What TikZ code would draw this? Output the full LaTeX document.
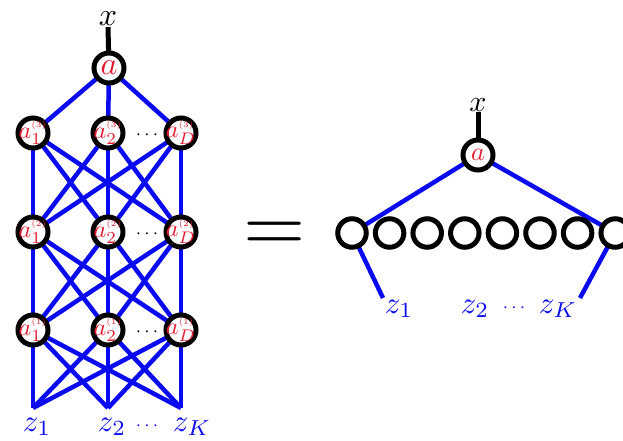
\documentclass[tikz,border=0pt]{standalone}
\usepackage{graphicx}
\usepackage{tikz}
\usetikzlibrary{positioning}
\definecolor{wireblue}{RGB}{10, 10, 240}
\definecolor{unitred}{RGB}{230, 25, 45}
\pgfdeclarelayer{wires}
\pgfsetlayers{wires,main}
\newcommand{\bigmath}[2]{\scalebox{#1}{$#2$}}
\newcommand{\unitname}[2]{\bigmath{2.4}{a_{#1}^{\scalebox{0.7}{$\scriptscriptstyle(#2)$}}}}

\begin{document}
\begin{tikzpicture}[x=1pt, y=-1pt,
    unit/.style={circle, draw=black, line width=5pt, fill=white, minimum size=30pt, inner sep=0pt},
    unittext/.style={text=unitred, inner sep=0pt},
    ringunit/.style={circle, draw=black, line width=5pt, fill=white, minimum size=28.5pt, inner sep=0pt},
    wire/.style={wireblue, line width=4.5pt},
    stem/.style={black, line width=5pt},
    varlbl/.style={anchor=base, inner sep=1pt},
    zlbl/.style={varlbl, text=wireblue},
    dots/.style={inner sep=0pt}]
    \useasboundingbox (0,0) rectangle (623,441);
    \clip (0,0) rectangle (623,441);
    % Left: stacked layers
    \node[varlbl] (xa) at (108,26) {\bigmath{3.2}{x}};
    \node[unit, label={[unittext]center:\bigmath{3.2}{a}}] (a) at (109,68) {};
    \foreach \l/\y in {3/133, 2/232, 1/330} {
        \foreach \i/\x/\s in {1/33/1, 2/108/2, 3/181/D}
            \node[unit, label={[unittext]center:\unitname{\s}{\l}}] (n\l\i) at (\x,\y) {};
        \node[dots] (d\l) at (147,\y+2) {\bigmath{1.9}{\cdots}};
    }
    \foreach \i/\x in {1/33, 2/108, 3/181}
        \coordinate (p\i) at (\x,408);
    \node[zlbl] (z1) at (37,431) {\bigmath{3.1}{z_1}};
    \node[zlbl] (z2) at (112,431) {\bigmath{3.1}{z_2}};
    \node[dots, text=wireblue] (zd) at (147,426) {\bigmath{1.9}{\cdots}};
    \node[zlbl] (zK) at (192,431) {\bigmath{3.1}{z_K}};
    % Equals sign
    \node[inner sep=0pt] (eq) at (274.5,236.5) {\bigmath{8}{=}};
    % Right: one wide layer
    \node[varlbl] (xb) at (478,111) {\bigmath{3}{x}};
    \node[unit, label={[unittext]center:\bigmath{2.6}{a}}] (b) at (478,155) {};
    \foreach \k in {1,...,8}
        \node[ringunit] (c\k) at ({352+(\k-1)*37.6},233) {};
    \coordinate (q1) at (383,298);
    \coordinate (q2) at (580,298);
    \node[zlbl] (w1) at (399,313) {\bigmath{3.1}{z_1}};
    \node[zlbl] (w2) at (475,313) {\bigmath{3.1}{z_2}};
    \node[dots, text=wireblue] (wd) at (514,308) {\bigmath{1.9}{\cdots}};
    \node[zlbl] (wK) at (558,313) {\bigmath{3.1}{z_K}};
    % Connectors
    \begin{pgfonlayer}{wires}
        \draw[stem] (xa.south) -- (a.center);
        \foreach \i in {1,2,3} {
            \draw[wire] (a.center) -- (n3\i.center);
            \foreach \j in {1,2,3} {
                \draw[wire] (n3\i.center) -- (n2\j.center);
                \draw[wire] (n2\i.center) -- (n1\j.center);
                \draw[wire] (n1\i.center) -- (p\j);
            }
        }
        \draw[stem] (xb.south) -- (b.center);
        \draw[wire] (b.center) -- (c1.center);
        \draw[wire] (b.center) -- (c8.center);
        \draw[wire] (c1.center) -- (q1);
        \draw[wire] (c8.center) -- (q2);
    \end{pgfonlayer}
\end{tikzpicture}
\end{document}
